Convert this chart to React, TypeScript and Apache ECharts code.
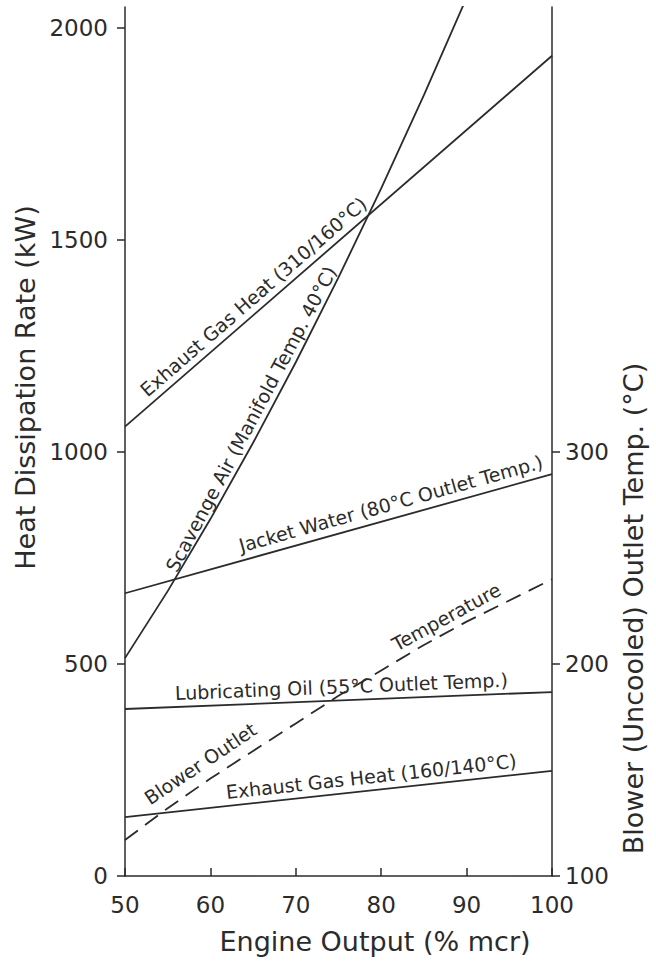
import React, { useEffect, useRef } from 'react';
import * as echarts from 'echarts';

// Axis ticks
const outputTicks = [50, 60, 70, 80, 90, 100];
const heatTicks = [0, 500, 1000, 1500, 2000];
const tempTicks = [100, 200, 300];

// Heat dissipation series (kW) vs engine output (% mcr)
const exhaustHighX = [50, 100];
const exhaustHighKW = [1060, 1935];
const scavengeX = [50, 55, 60, 65, 70, 75, 80, 85, 90];
const scavengeKW = [514, 672, 842, 1022, 1212, 1412, 1622, 1842, 2072];
const jacketX = [50, 100];
const jacketKW = [667, 948];
const lubeX = [50, 100];
const lubeKW = [394, 434];
const exhaustLowX = [50, 100];
const exhaustLowKW = [139, 248];

// Blower (uncooled) outlet temperature (°C)
const blowerX = [50, 55, 60, 65, 70, 75, 80, 85, 90, 95, 100];
const blowerC = [117, 132, 146, 159, 172, 185, 197, 209, 220, 230, 240];

const FONT = 'DejaVu Sans';
const INK = '#2b2b2b';

const pairs = (xs: number[], ys: number[]) => xs.map((x, i) => [x, ys[i]]);
const interp = (xs: number[], ys: number[], x: number) => {
  for (let i = 0; i < xs.length - 1; i++) {
    if (x <= xs[i + 1] || i === xs.length - 2) {
      const t = (x - xs[i]) / (xs[i + 1] - xs[i]);
      return ys[i] + t * (ys[i + 1] - ys[i]);
    }
  }
  return ys[ys.length - 1];
};

const labelSpecs = [
  { xs: exhaustHighX, ys: exhaustHighKW, axis: 0, text: 'Exhaust Gas Heat (310/160°C)', at: 66.1, offset: 14 },
  { xs: scavengeX, ys: scavengeKW, axis: 0, text: 'Scavenge Air (Manifold Temp. 40°C)', at: 66.1, offset: 13 },
  { xs: jacketX, ys: jacketKW, axis: 0, text: 'Jacket Water (80°C Outlet Temp.)', at: 81.6, offset: 15 },
  { xs: lubeX, ys: lubeKW, axis: 0, text: 'Lubricating Oil (55°C Outlet Temp.)', at: 75.4, offset: 14 },
  { xs: exhaustLowX, ys: exhaustLowKW, axis: 0, text: 'Exhaust Gas Heat (160/140°C)', at: 79.0, offset: 14 },
  { xs: blowerX, ys: blowerC, axis: 1, text: 'Blower Outlet', at: 60.0, offset: 18 },
  { xs: blowerX, ys: blowerC, axis: 1, text: 'Temperature', at: 88.4, offset: 14 },
];

const solid = { color: INK, width: 1.8 };
const plain = (v: number) => String(v);

export default function App() {
  const ref = useRef<HTMLDivElement>(null);
  useEffect(() => {
    const chart = echarts.init(ref.current!, null, { renderer: 'svg' });
    const axisLine = { show: true, onZero: false, lineStyle: { color: INK, width: 1.5 } };
    const tickStyle = { color: INK, width: 1.5 };
    chart.setOption({
      animation: false,
      backgroundColor: '#ffffff',
      grid: { left: 125, right: 104, top: 7, bottom: 86, containLabel: false, outerBoundsMode: 'none' },
      xAxis: {
        type: 'value',
        min: 50,
        max: 100,
        interval: 10,
        name: 'Engine Output (% mcr)',
        nameLocation: 'middle',
        nameGap: 52,
        nameTextStyle: { fontFamily: FONT, fontSize: 27, color: INK, padding: [0, 0, 0, 73] },
        axisLine,
        axisTick: { show: true, inside: true, length: 8, lineStyle: tickStyle, customValues: outputTicks },
        axisLabel: { margin: 17, fontFamily: FONT, fontSize: 23, color: INK, customValues: outputTicks, formatter: plain },
        splitLine: { show: false },
      },
      yAxis: [
        {
          type: 'value',
          position: 'left',
          min: 0,
          max: 2050,
          name: 'Heat Dissipation Rate (kW)',
          nameLocation: 'middle',
          nameRotate: 90,
          nameGap: 83,
          nameTextStyle: { fontFamily: FONT, fontSize: 27, color: INK, padding: [0, 0, 0, 108] },
          axisLine,
          axisTick: { show: true, length: 8, lineStyle: tickStyle, customValues: heatTicks },
          axisLabel: { margin: 17, fontFamily: FONT, fontSize: 23, color: INK, customValues: heatTicks, formatter: plain },
          splitLine: { show: false },
        },
        {
          type: 'value',
          position: 'right',
          min: 100,
          max: 510,
          name: 'Blower (Uncooled) Outlet Temp. (°C)',
          nameLocation: 'middle',
          nameRotate: 90,
          nameGap: 64,
          nameTextStyle: { fontFamily: FONT, fontSize: 27, color: INK, padding: [0, 334, 0, 0] },
          axisLine,
          axisTick: { show: true, length: 8, lineStyle: tickStyle, customValues: tempTicks },
          axisLabel: { margin: 13, fontFamily: FONT, fontSize: 23, color: INK, customValues: tempTicks, formatter: plain },
          splitLine: { show: false },
        },
      ],
      series: [
        { name: 'Exhaust Gas Heat (310/160°C)', type: 'line', data: pairs(exhaustHighX, exhaustHighKW), symbol: 'none', lineStyle: solid, clip: true, silent: true },
        { name: 'Scavenge Air', type: 'line', data: pairs(scavengeX, scavengeKW), symbol: 'none', lineStyle: solid, clip: true, silent: true },
        { name: 'Jacket Water', type: 'line', data: pairs(jacketX, jacketKW), symbol: 'none', lineStyle: solid, clip: true, silent: true },
        { name: 'Lubricating Oil', type: 'line', data: pairs(lubeX, lubeKW), symbol: 'none', lineStyle: solid, clip: true, silent: true },
        { name: 'Exhaust Gas Heat (160/140°C)', type: 'line', data: pairs(exhaustLowX, exhaustLowKW), symbol: 'none', lineStyle: solid, clip: true, silent: true },
        { name: 'Blower Outlet Temperature', type: 'line', yAxisIndex: 1, data: pairs(blowerX, blowerC), symbol: 'none', lineStyle: { color: INK, width: 1.8, type: [16, 9] }, clip: true, silent: true },
      ],
    });

    const graphics = labelSpecs.map((s) => {
      const finder = { xAxisIndex: 0, yAxisIndex: s.axis };
      const a = chart.convertToPixel(finder, [s.at - 1, interp(s.xs, s.ys, s.at - 1)]) as number[];
      const b = chart.convertToPixel(finder, [s.at + 1, interp(s.xs, s.ys, s.at + 1)]) as number[];
      const c = chart.convertToPixel(finder, [s.at, interp(s.xs, s.ys, s.at)]) as number[];
      const dx = b[0] - a[0];
      const dy = b[1] - a[1];
      const len = Math.hypot(dx, dy);
      const ux = dx / len;
      const uy = dy / len;
      const nx = uy;
      const ny = -ux;
      return {
        type: 'text',
        x: c[0] + nx * s.offset,
        y: c[1] + ny * s.offset,
        rotation: Math.atan2(-dy, dx),
        silent: true,
        style: {
          text: s.text,
          fontFamily: FONT,
          fontSize: 19,
          fill: INK,
          align: 'center',
          verticalAlign: 'middle',
          textAlign: 'center',
          textVerticalAlign: 'middle',
        },
      };
    });
    chart.setOption({ graphic: graphics });

    return () => chart.dispose();
  }, []);

  return (
    <div
      ref={ref}
      style={{ position: 'absolute', left: 0, top: 0, width: 656, height: 962, background: '#fff' }}
    />
  );
}
